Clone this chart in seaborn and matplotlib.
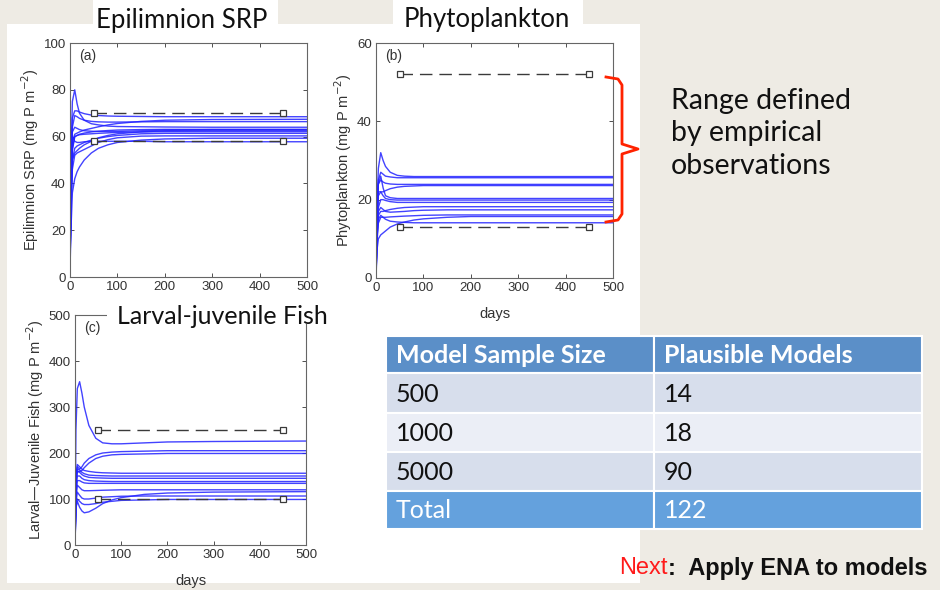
import numpy as np
import pandas as pd
import matplotlib
matplotlib.use("Agg")
import matplotlib.pyplot as plt
import seaborn as sns
from matplotlib.patches import Rectangle

# ---------------- data ----------------
days = [0, 2, 5, 10, 15, 20, 30, 45, 60, 80, 100, 150, 200, 300, 500]

srp_runs = [
    [8, 50, 75, 80, 74, 70, 67, 65.5, 65, 64.5, 64.3, 64.2, 64.1, 64, 64],
    [6, 45, 68, 71, 71, 70.5, 69.8, 69.2, 69, 68.8, 68.7, 68.6, 68.5, 68.5, 68.5],
    [6, 42, 64, 69, 68.5, 67.8, 67, 66.5, 66.3, 66.2, 66.2, 66.3, 66.4, 66.4, 66.4],
    [5, 38, 58, 61, 61.5, 62, 62.8, 63.5, 64.2, 65, 65.6, 66.5, 67, 67.3, 67.4],
    [5, 35, 55, 60, 60.5, 61, 61.5, 62, 62.3, 62.6, 62.8, 63, 63.1, 63.1, 63.1],
    [5, 33, 54, 60, 60.5, 60.8, 61, 61.2, 61.4, 61.6, 61.8, 62, 62.1, 62.1, 62.1],
    [4, 30, 50, 55, 56, 56.5, 57.5, 58.5, 59.3, 60, 60.5, 61.2, 61.4, 61.4, 61.4],
    [4, 28, 46, 52, 53, 53.5, 54.5, 56, 57.5, 58.7, 59.5, 60.2, 60.3, 60.3, 60.3],
    [3, 20, 36, 42, 45, 47, 50, 53, 55, 56.5, 57.5, 58.5, 59, 59.3, 59.3],
    [5, 40, 60, 58, 57.5, 57.5, 57.8, 58, 58, 58, 58, 58, 57.8, 57.8, 57.8],
    [5, 38, 62, 64, 63.5, 63, 62.5, 62.3, 62.2, 62.2, 62.2, 62.5, 62.8, 63, 63],
    [4, 30, 50, 53, 54, 55, 56.5, 58, 59.5, 60.5, 61.2, 62, 62.5, 62.7, 62.7],
]

phyto_runs = [
    [0, 18, 28, 32, 30, 28.5, 27, 26.2, 26, 25.9, 25.9, 25.9, 25.9, 25.9, 25.9],
    [0, 16, 25, 27, 26.5, 26, 25.8, 25.6, 25.6, 25.6, 25.6, 25.6, 25.6, 25.6, 25.6],
    [0, 15, 24, 25, 24.5, 24.2, 24, 23.9, 23.9, 23.9, 23.9, 23.9, 23.9, 23.9, 23.9],
    [0, 14, 21, 22, 22, 22.3, 22.8, 23.2, 23.4, 23.5, 23.6, 23.6, 23.6, 23.6, 23.6],
    [0, 15, 24, 26, 23, 21, 20.5, 20.3, 20.3, 20.3, 20.3, 20.3, 20.3, 20.3, 20.3],
    [0, 14, 22, 22, 21, 20.3, 20, 19.9, 19.9, 19.9, 19.9, 19.9, 19.9, 19.9, 19.9],
    [0, 12, 18, 20, 20, 19.8, 19.5, 19.3, 19.3, 19.3, 19.3, 19.3, 19.3, 19.3, 19.3],
    [0, 10, 16, 17, 17, 17.2, 17.5, 17.8, 18, 18.1, 18.2, 18.2, 18.2, 18.2, 18.2],
    [0, 11, 17, 18, 17.5, 17, 16.8, 16.9, 17, 17.2, 17.3, 17.4, 17.4, 17.4, 17.4],
    [0, 9, 14, 15.5, 15.5, 15.5, 15.6, 15.7, 15.8, 15.9, 16, 16.1, 16.1, 16.1, 16.1],
    [0, 7, 10, 11, 11.5, 12, 13, 13.8, 14.3, 14.8, 15.1, 15.5, 15.7, 15.7, 15.7],
    [0, 10, 15, 16, 15.5, 15, 14.5, 14.3, 14.2, 14.1, 14.1, 14.1, 14.1, 14.1, 14.1],
]

fish_runs = [
    [0, 250, 340, 355, 330, 300, 260, 232, 222, 220, 220, 222, 224, 225, 226],
    [0, 150, 170, 165, 170, 178, 188, 196, 200, 202, 203, 204, 205, 205, 205],
    [0, 140, 160, 160, 162, 168, 178, 188, 193, 196, 197, 198, 199, 199, 199],
    [0, 150, 175, 170, 165, 162, 160, 158, 157, 156.5, 156, 156, 156, 156, 156],
    [0, 140, 165, 163, 158, 155, 152, 151, 150.5, 150, 150, 150, 150, 150, 150],
    [0, 130, 160, 158, 153, 150, 147, 146, 145.5, 145, 145, 145, 145, 145, 145],
    [0, 120, 150, 150, 145, 142, 140, 139, 138.5, 138, 138, 138, 138, 138, 138],
    [0, 110, 140, 140, 137, 135, 134, 134, 134, 134, 134, 134, 134, 134, 134],
    [0, 100, 130, 125, 120, 118, 118, 118.5, 119, 119.5, 120, 120, 120, 120, 120],
    [0, 80, 95, 82, 74, 70, 72, 80, 90, 98, 103, 110, 113, 115, 116],
    [0, 90, 115, 108, 102, 100, 100, 102, 104, 105, 106, 106.5, 106.5, 106.5, 106.5],
    [0, 80, 100, 95, 90, 88, 88, 90, 93, 95, 97, 98, 99, 99, 99],
]

obs_days = [50, 450]
srp_obs = [58, 70]
phyto_obs = [13, 52]
fish_obs = [100, 250]

table_header = ["Model Sample Size", "Plausible Models"]
sample_sizes = ["500", "1000", "5000"]
plausible = ["14", "18", "90"]
total_row = ["Total", "122"]

# ---------------- figure ----------------
W, H = 940, 590
fig = plt.figure(figsize=(9.4, 5.9), dpi=100)
BG = "#EEEBE4"
fig.patch.set_facecolor(BG)

def rect(l, t, r, b):
    return [l / W, 1 - b / H, (r - l) / W, (b - t) / H]

bg = fig.add_axes([0, 0, 1, 1], zorder=0)
bg.set_xlim(0, W); bg.set_ylim(H, 0); bg.axis("off")
bg.add_patch(Rectangle((7, 24), 633, 559, facecolor="white", edgecolor="none"))

TICKFONT = "Liberation Sans"
SLIDEFONT = "Lato"
INK = "#333333"

def make_df(runs):
    rows = []
    for i, r in enumerate(runs):
        for d, v in zip(days, r):
            rows.append((i, d, v))
    return pd.DataFrame(rows, columns=["run", "day", "value"])

def panel(box, runs, obs, ymax, yticks, ylabel, xlabel, tag):
    ax = fig.add_axes(rect(*box), zorder=2)
    ax.set_facecolor("none")
    sns.lineplot(data=make_df(runs), x="day", y="value", units="run",
                 estimator=None, color="#2222ff", lw=1.0, alpha=0.85,
                 ax=ax, legend=False)
    for level in obs:
        ax.plot(obs_days, [level] * 2, ls=(0, (9, 5)), color="#3a3a3a", lw=1.0,
                marker="s", ms=4, mfc="white", mec="#3a3a3a", mew=0.9)
    ax.set_xlim(0, 500); ax.set_ylim(0, ymax)
    ax.set_xticks([0, 100, 200, 300, 400, 500])
    ax.set_yticks(yticks)
    ax.tick_params(direction="in", top=True, right=True, length=3, width=0.6,
                   labelsize=9.5, colors=INK, pad=3)
    for lab in ax.get_xticklabels() + ax.get_yticklabels():
        lab.set_fontfamily(TICKFONT)
    for s in ax.spines.values():
        s.set_color("#666666"); s.set_linewidth(0.8)
    ax.set_ylabel(ylabel, fontsize=10.5, color=INK, family=TICKFONT, labelpad=2)
    ax.set_xlabel(xlabel, fontsize=10.5, color=INK, family=TICKFONT, labelpad=9)
    ax.text(0.04, 0.975, tag, transform=ax.transAxes, va="top", ha="left",
            fontsize=10, color=INK, family=TICKFONT)
    return ax

panel((70, 43, 307, 277), srp_runs, srp_obs, 100, [0, 20, 40, 60, 80, 100],
      "Epilimnion SRP (mg P m$^{-2}$)", "", "(a)")
panel((376, 43, 613, 278), phyto_runs, phyto_obs, 60, [0, 20, 40, 60],
      "Phytoplankton (mg P m$^{-2}$)", "days", "(b)")
panel((75, 315, 306, 545), fish_runs, fish_obs, 500, [0, 100, 200, 300, 400, 500],
      "Larval\u2014Juvenile Fish (mg P m$^{-2}$)", "days", "(c)")

# ---------------- overlay (slide annotations) ----------------
ov = fig.add_axes([0, 0, 1, 1], zorder=10)
ov.set_xlim(0, W); ov.set_ylim(H, 0); ov.axis("off")
ov.patch.set_alpha(0)

# title boxes
ov.add_patch(Rectangle((93, 0), 185, 36, facecolor="white", edgecolor="none"))
ov.text(182, 28, "Epilimnion SRP", ha="center", va="baseline", fontsize=18.5,
        family=SLIDEFONT, color="#111111")
ov.add_patch(Rectangle((393, 0), 190, 34, facecolor="white", edgecolor="none"))
ov.text(487, 27, "Phytoplankton", ha="center", va="baseline", fontsize=18.5,
        family=SLIDEFONT, color="#111111")
ov.add_patch(Rectangle((107, 300), 226, 24, facecolor="white", edgecolor="none"))
ov.text(222, 324, "Larval-juvenile Fish", ha="center", va="baseline", fontsize=18,
        family=SLIDEFONT, color="#111111")

# red bracket
bx = [606, 618, 622, 622, 638, 622, 622, 618, 606]
by = [77, 79, 85, 144, 149, 154, 214, 220, 222]
ov.plot(bx, by, color="#FF2200", lw=2.0, solid_joinstyle="round")

ov.text(671, 88, "Range defined\nby empirical\nobservations", ha="left", va="top",
        fontsize=20.5, family=SLIDEFONT, color="#111111", linespacing=1.3)

# table
col_x = [386, 654, 922]
row_y = [336, 373, 413, 452, 491, 529]
fills = ["#5B8FC8", "#D7DEEC", "#EBEEF6", "#D7DEEC", "#64A1DD"]
cells = [table_header] + [[a, b] for a, b in zip(sample_sizes, plausible)] + [total_row]
for i, row in enumerate(cells):
    y0, y1 = row_y[i], row_y[i + 1]
    for j in range(2):
        x0, x1 = col_x[j], col_x[j + 1]
        ov.add_patch(Rectangle((x0, y0), x1 - x0, y1 - y0, facecolor=fills[i],
                               edgecolor="white", lw=1.5))
        if i == 0:
            kw = dict(color="white", fontweight="bold")
        elif i == len(cells) - 1:
            kw = dict(color="white", fontweight="normal")
        else:
            kw = dict(color="#111111", fontweight="normal")
        ov.text(x0 + 10, (y0 + y1) / 2 + 1, row[j], ha="left", va="center",
                fontsize=18, family=SLIDEFONT, **kw)

# footer
t1 = ov.text(619, 568, "Next", ha="left", va="center", fontsize=17,
             family="Liberation Sans", color="#FF1A1A")
fig.canvas.draw()
bb = t1.get_window_extent()
x_end = bb.x1
ov.annotate(":  Apply ENA to models", xy=(x_end, 0), xycoords="figure pixels",
            xytext=(x_end, H - 568), textcoords="figure pixels",
            ha="left", va="center", fontsize=17, family="Liberation Sans",
            fontweight="bold", color="#111111")

fig.savefig("out.png", dpi=100, facecolor=BG)
